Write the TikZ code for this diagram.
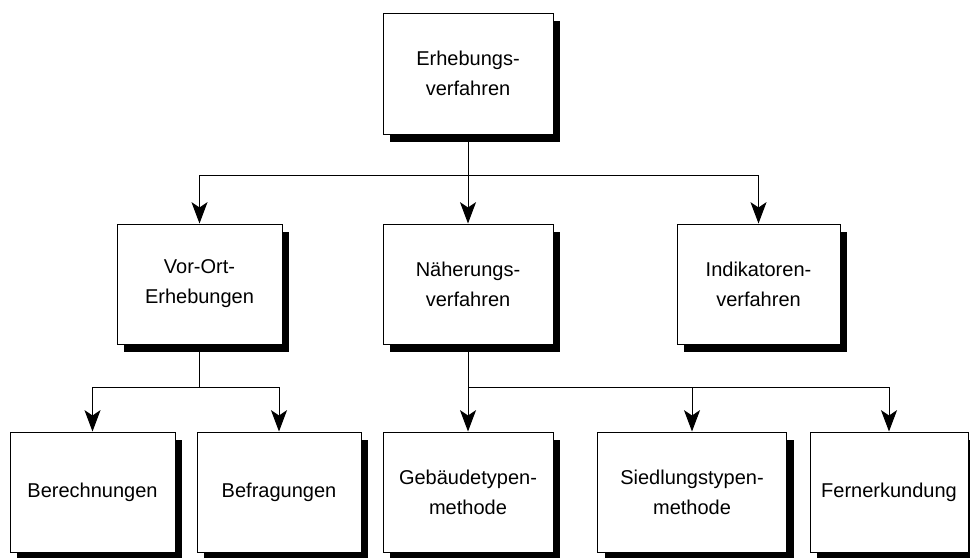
\documentclass[tikz,border=0pt]{standalone}
\usepackage{fontspec}
\setmainfont{Liberation Sans}
\usetikzlibrary{arrows.meta,positioning,shadows}

\begin{document}
\begin{tikzpicture}[
  x=0.75pt, y=-0.75pt,
  box/.style={draw, line width=0.75pt, rectangle, fill=white, align=center,
              minimum height=90pt, inner sep=2pt, font=\fontsize{15}{22.5}\selectfont,
              drop shadow={shadow xshift=5.25pt, shadow yshift=-6pt, fill=black, opacity=1}},
  arr/.style={-{Stealth[length=16pt,width=12pt,inset=4pt]}, line width=0.75pt},
  conn/.style={line width=0.75pt}
]
\useasboundingbox (0,0) rectangle (970,557);

% Top level
\node[box, minimum width=127.5pt, minimum height=90.75pt] (erheb) at (468,73.5) {Erhebungs-\\verfahren};

% Second level
\node[box, minimum width=123.75pt] (vorort) at (199.5,284) {Vor-Ort-\\Erhebungen};
\node[box, minimum width=127.5pt] (naeh) at (468,284) {Näherungs-\\verfahren};
\node[box, minimum width=122.25pt] (indik) at (758.5,284) {Indikatoren-\\verfahren};

% Third level
\node[box, minimum width=123.75pt] (berech) at (92.5,492) {Berechnungen};
\node[box, minimum width=123pt] (befrag) at (279,492) {Befragungen};
\node[box, minimum width=127.5pt] (gebaeude) at (468,492) {Gebäudetypen-\\methode};
\node[box, minimum width=141.75pt] (siedl) at (692,492) {Siedlungstypen-\\methode};
\node[box, minimum width=118.5pt] (fern) at (889,492) {Fernerkundung};

% Branch points
\coordinate (split1) at (468,175);
\coordinate (split2) at (199.5,387);
\coordinate (split3) at (468,387);

% Connectors
\draw[conn] (erheb.south) -- (split1);
\draw[arr] (split1) -| (vorort.north);
\draw[arr] (split1) -- (naeh.north);
\draw[arr] (split1) -| (indik.north);

\draw[conn] (vorort.south) -- (split2);
\draw[arr] (split2) -| (berech.north);
\draw[arr] (split2) -| (befrag.north);

\draw[conn] (naeh.south) -- (split3);
\draw[arr] (split3) -- (gebaeude.north);
\draw[arr] (split3) -| (siedl.north);
\draw[arr] (split3) -| (fern.north);

\end{tikzpicture}
\end{document}
